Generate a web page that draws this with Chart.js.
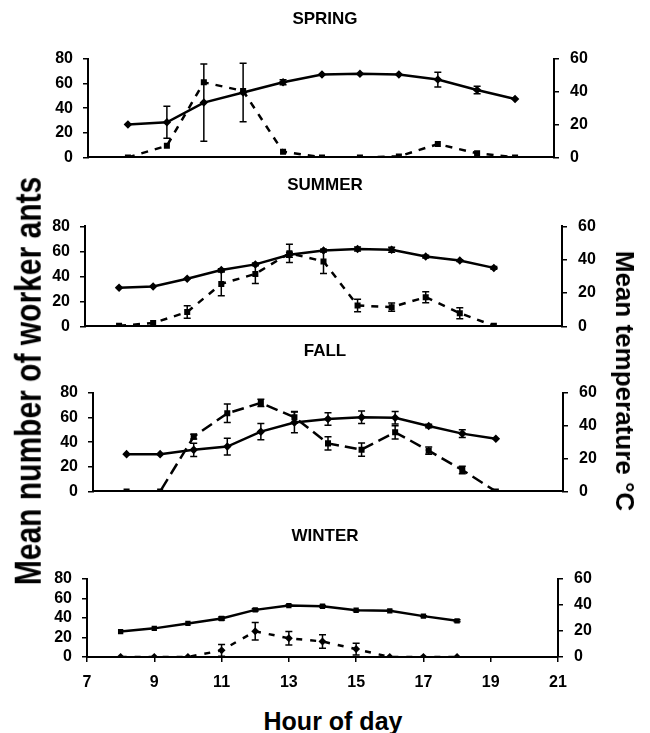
<!DOCTYPE html>
<html><head><meta charset="utf-8">
<script src="https://cdn.jsdelivr.net/npm/chart.js@4.4.1/dist/chart.umd.min.js"></script>
<style>
html,body{margin:0;padding:0;background:#fff;width:650px;height:733px;overflow:hidden;font-family:"Liberation Sans",Arial,sans-serif;}
canvas{position:absolute;left:0;}
.t{position:absolute;font-weight:bold;color:#000;white-space:nowrap;line-height:1;font-family:"Liberation Sans",Arial,sans-serif;}
</style></head><body>
<canvas id="spring" width="650" height="178" style="top:0px"></canvas>
<canvas id="summer" width="650" height="180" style="top:167px"></canvas>
<canvas id="fall" width="650" height="179" style="top:333px"></canvas>
<canvas id="winter" width="650" height="179" style="top:518px"></canvas>
<div class="t" style="left:28px;top:381px;font-size:30px;transform:translate(-50%,-50%) rotate(-90deg) scaleY(1.25);">Mean number of worker ants</div>
<div class="t" style="left:625px;top:381px;font-size:26px;transform:translate(-50%,-50%) rotate(90deg);">Mean temperature °C</div>
<div class="t" style="left:333px;top:721px;font-size:25px;transform:translate(-50%,-50%);">Hour of day</div>
<script>
// ---- data ----
const hourTicks = [7, 9, 11, 13, 15, 17, 19, 21];
const antTicks = [0, 20, 40, 60, 80];
const tempTicks = [0, 20, 40, 60];

const springHours   = [8.2, 9.37, 10.48, 11.66, 12.86, 14.03, 15.17, 16.34, 17.51, 18.69, 19.83];
const springAnts    = [0, 9.5, 61, 54, 4.6, 0, 0, 0.8, 10.8, 3.3, 0];
const springAntsErr = [0, 0, 0, 0, 0, 0, 0, 0, 0, 0, 0];
const springTemp    = [20.1, 21.4, 33.4, 39.5, 45.8, 50.5, 50.9, 50.5, 47.4, 41.1, 35.6];
const springTempErr = [0, 9.8, 23.5, 17.8, 1.5, 0, 0, 0, 4.5, 2.3, 0];

const summerHours   = [8, 9, 10, 11, 12, 13, 14, 15, 16, 17, 18, 19];
const summerAnts    = [0.5, 2.7, 11.5, 34, 42, 58.5, 52, 16.7, 15.4, 23.4, 10.6, 0.5];
const summerAntsErr = [0, 0, 5, 9.5, 7.6, 7.3, 9.6, 5, 3.3, 4.4, 4.4, 0];
const summerTemp    = [23.2, 24, 28.6, 33.8, 37.2, 43, 45.5, 46.5, 46, 41.9, 39.5, 35.1];
const summerTempErr = [0, 0, 0, 0.8, 0.8, 1.5, 0.8, 1.2, 1.5, 0.8, 0.5, 0.8];

const fallHours     = [8, 9, 10, 11, 12, 13, 14, 15, 16, 17, 18, 19];
const fallAnts      = [0, 0, 44.5, 63.4, 71.9, 60.2, 39, 33.9, 48, 33.1, 17.4, 0];
const fallAntsErr   = [0, 0, 2, 7.5, 3, 4.7, 5.4, 5.4, 5.4, 3, 3, 0];
const fallTemp      = [22.7, 22.7, 25.3, 27.3, 36.4, 42, 44.1, 45.1, 44.8, 39.8, 35.2, 32.1];
const fallTempErr   = [0, 0, 4, 5.1, 4.9, 6.3, 3.8, 3.8, 3.8, 1.1, 2.3, 0];

const winterHours   = [8, 9, 10, 11, 12, 13, 14, 15, 16, 17, 18];
const winterAnts    = [0, 0, 0, 6.8, 26.3, 19.2, 15.9, 8.1, 0, 0, 0];
const winterAntsErr = [0, 0, 0, 6, 9, 7, 7, 6, 0, 0, 0];
const winterTemp    = [19.5, 22, 25.8, 29.6, 36.2, 39.5, 39, 35.9, 35.5, 31.4, 27.8];
const winterTempErr = [0, 0, 0, 1.2, 0.8, 0.5, 0.5, 0.3, 0.3, 0.3, 0.8];

// ---- rendering ----
Chart.defaults.font.family = '"Liberation Sans", Arial, sans-serif';
Chart.defaults.color = '#000';

const errorBars = {
  id: 'errorBars',
  afterDatasetsDraw(chart) {
    const ctx = chart.ctx;
    const xs = chart.scales.x;
    chart.data.datasets.forEach((ds, i) => {
      if (!ds.errors) return;
      const ys = chart.scales[ds.yAxisID];
      ctx.save();
      ctx.strokeStyle = '#000';
      ctx.lineWidth = 1.5;
      ctx.setLineDash([]);
      ds.data.forEach((p, j) => {
        const e = ds.errors[j];
        if (!e) return;
        const x = xs.getPixelForValue(p.x);
        const yt = ys.getPixelForValue(p.y + e);
        const yb = ys.getPixelForValue(p.y - e);
        ctx.beginPath();
        ctx.moveTo(x, yt); ctx.lineTo(x, yb);
        ctx.moveTo(x - 3.5, yt); ctx.lineTo(x + 3.5, yt);
        ctx.moveTo(x - 3.5, yb); ctx.lineTo(x + 3.5, yb);
        ctx.stroke();
      });
      ctx.restore();
    });
  }
};

function pts(xs, ys) { return xs.map((x, i) => ({x: x, y: ys[i]})); }

function makePanel(id, title, hours, ants, antsErr, temp, tempErr, cfg) {
  const tickFont = {size: 16, weight: 'bold'};
  new Chart(document.getElementById(id), {
    type: 'line',
    data: {
      datasets: [
        {
          label: 'Temperature', data: pts(hours, temp), errors: tempErr, yAxisID: 'y1',
          borderColor: '#000', backgroundColor: '#000', borderWidth: 2.5,
          pointStyle: cfg.tempPoint, pointRadius: cfg.tempRadius, tension: 0
        },
        {
          label: 'Ants', data: pts(hours, ants), errors: antsErr, yAxisID: 'y',
          borderColor: '#000', backgroundColor: '#000', borderWidth: 2.5, borderDash: cfg.dash,
          pointStyle: cfg.antPoint, pointRadius: cfg.antRadius, tension: 0
        }
      ]
    },
    options: {
      responsive: false, animation: false, devicePixelRatio: 1,
      layout: {padding: 0},
      plugins: {
        legend: {display: false}, tooltip: {enabled: false},
        title: {display: true, text: title, color: '#000',
          font: {size: 17, weight: 'bold'}, padding: {top: cfg.tTop, bottom: cfg.tBottom}}
      },
      scales: {
        x: {
          type: 'linear', min: 7, max: 21,
          afterBuildTicks: s => { s.ticks = hourTicks.map(v => ({value: v})); },
          afterFit: s => { s.height = cfg.xHeight; },
          ticks: {display: cfg.showX, font: tickFont, padding: 11, color: '#000', autoSkip: false, maxRotation: 0},
          grid: {display: cfg.showX, drawOnChartArea: false, drawTicks: true, tickLength: 5, color: '#000', lineWidth: 1.5},
          border: {display: true, color: '#000', width: 2}
        },
        y: {
          position: 'left', min: 0, max: 80,
          afterBuildTicks: s => { s.ticks = antTicks.map(v => ({value: v})); },
          afterFit: s => { s.width = cfg.left; },
          ticks: {font: tickFont, padding: 10, color: '#000', autoSkip: false},
          grid: {drawOnChartArea: false, drawTicks: true, tickLength: 5, color: '#000', lineWidth: 1.5},
          border: {display: true, color: '#000', width: 2}
        },
        y1: {
          position: 'right', min: 0, max: 60,
          afterBuildTicks: s => { s.ticks = tempTicks.map(v => ({value: v})); },
          afterFit: s => { s.width = 650 - cfg.right; },
          ticks: {font: tickFont, padding: 11, color: '#000', autoSkip: false},
          grid: {drawOnChartArea: false, drawTicks: true, tickLength: 5, color: '#000', lineWidth: 1.5},
          border: {display: true, color: '#000', width: 2}
        }
      }
    },
    plugins: [errorBars]
  });
}

makePanel('spring', 'SPRING', springHours, springAnts, springAntsErr, springTemp, springTempErr,
  {left: 88, right: 554, tTop: 9, tBottom: 29.5, xHeight: 12, showX: false, dash: [7, 7],
   tempPoint: 'rectRot', tempRadius: 2.5, antPoint: 'rect', antRadius: 2.5});
makePanel('summer', 'SUMMER', summerHours, summerAnts, summerAntsErr, summerTemp, summerTempErr,
  {left: 85, right: 562, tTop: 8, tBottom: 31, xHeight: 12, showX: false, dash: [7, 7],
   tempPoint: 'rectRot', tempRadius: 2.5, antPoint: 'rect', antRadius: 2.5});
makePanel('fall', 'FALL', fallHours, fallAnts, fallAntsErr, fallTemp, fallTempErr,
  {left: 93, right: 563, tTop: 8, tBottom: 31.5, xHeight: 12, showX: false, dash: [12, 6],
   tempPoint: 'rectRot', tempRadius: 2.5, antPoint: 'rect', antRadius: 2.5});
makePanel('winter', 'WINTER', winterHours, winterAnts, winterAntsErr, winterTemp, winterTempErr,
  {left: 87, right: 558, tTop: 8, tBottom: 32.5, xHeight: 40, showX: true, dash: [6, 8],
   tempPoint: 'rect', tempRadius: 2, antPoint: 'rectRot', antRadius: 2.2});
</script>
</body></html>
